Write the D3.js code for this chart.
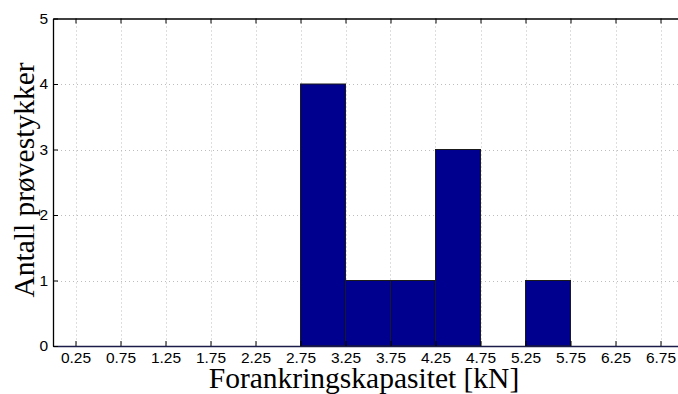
<!DOCTYPE html>
<html>
<head>
<meta charset="utf-8">
<script src="https://cdn.jsdelivr.net/npm/d3@7"></script>
<style>
  html, body { margin: 0; padding: 0; background: #fff; }
  svg { display: block; }
</style>
</head>
<body>
<svg id="chart" width="678" height="394"></svg>
<script>
// Histogram bins (edges) and counts
const binStarts = [2.75, 3.25, 3.75, 4.25, 5.25];
const binEnds   = [3.25, 3.75, 4.25, 4.75, 5.75];
const counts    = [4, 1, 1, 3, 1];
const xTicks = [0.25, 0.75, 1.25, 1.75, 2.25, 2.75, 3.25, 3.75, 4.25, 4.75, 5.25, 5.75, 6.25, 6.75];
const yTicks = [0, 1, 2, 3, 4, 5];

const svg = d3.select("#chart");
const plotL = 53, plotR = 683, plotT = 18.5, plotB = 346;

const x = d3.scaleLinear().domain([0, 7]).range([plotL, plotR]);
const y = d3.scaleLinear().domain([0, 5]).range([plotB, plotT]);

// dotted grid
const grid = svg.append("g").attr("stroke", "#bdbdbd").attr("stroke-width", 1)
  .attr("stroke-dasharray", "1,3");
grid.selectAll(".gx").data(xTicks).join("line")
  .attr("x1", d => Math.round(x(d)) + 0.5).attr("x2", d => Math.round(x(d)) + 0.5)
  .attr("y1", plotT).attr("y2", plotB);
grid.selectAll(".gy").data(yTicks.slice(1, -1)).join("line")
  .attr("x1", plotL).attr("x2", plotR)
  .attr("y1", d => Math.round(y(d)) + 0.5).attr("y2", d => Math.round(y(d)) + 0.5);

// bars
svg.append("g").selectAll("rect").data(counts).join("rect")
  .attr("x", (d, i) => x(binStarts[i]))
  .attr("width", (d, i) => x(binEnds[i]) - x(binStarts[i]))
  .attr("y", d => y(d))
  .attr("height", d => y(0) - y(d))
  .attr("fill", "#00008f")
  .attr("stroke", "#1a1a1a")
  .attr("stroke-width", 1);

// axes (ticks pointing inward)
const xAxis = d3.axisBottom(x).tickValues(xTicks).tickSizeInner(-5).tickSizeOuter(0)
  .tickPadding(6).tickFormat(d3.format(".2f"));
const gx = svg.append("g").attr("transform", `translate(0,${plotB})`).call(xAxis);
const xTop = d3.axisTop(x).tickValues(xTicks).tickSizeInner(-5).tickSizeOuter(0).tickFormat("");
const gxt = svg.append("g").attr("transform", `translate(0,${plotT})`).call(xTop);
const yAxis = d3.axisLeft(y).tickValues(yTicks).tickSizeInner(-5).tickSizeOuter(0)
  .tickPadding(5).tickFormat(d3.format("d"));
const gy = svg.append("g").attr("transform", `translate(${plotL},0)`).call(yAxis);

[gx, gxt, gy].forEach(g => {
  g.selectAll("path").attr("stroke", "#000").attr("stroke-width", 1.3);
  g.selectAll("line").attr("stroke", "#000");
  g.selectAll("text").attr("font-family", "'Liberation Sans', Arial, sans-serif")
    .attr("font-size", 15.5).attr("fill", "#000");
});
gx.select("path").attr("stroke", "#1c1c4a");

// axis titles
svg.append("text")
  .attr("x", 364).attr("y", 388)
  .attr("text-anchor", "middle")
  .attr("font-family", "'Liberation Serif', 'Times New Roman', serif")
  .attr("font-size", 29.5)
  .text("Forankringskapasitet [kN]");

svg.append("text")
  .attr("transform", "translate(34,180) rotate(-90)")
  .attr("text-anchor", "middle")
  .attr("font-family", "'Liberation Serif', 'Times New Roman', serif")
  .attr("font-size", 29.5)
  .text("Antall prøvestykker");
</script>
</body>
</html>
